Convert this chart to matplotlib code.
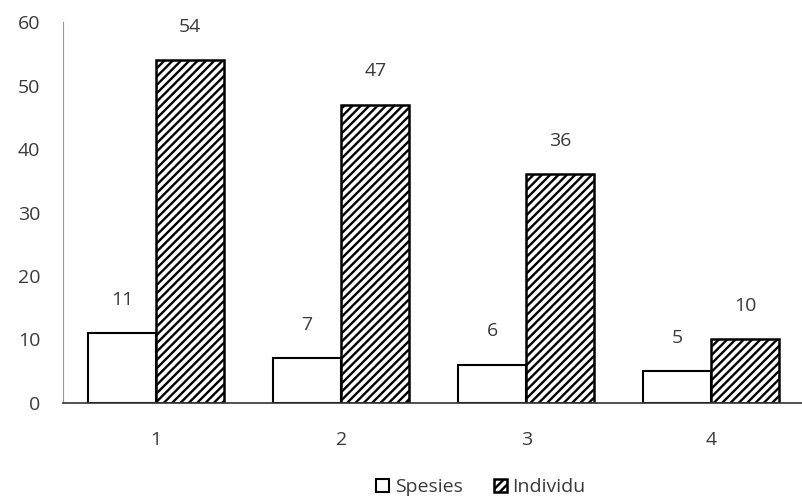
import matplotlib.pyplot as plt
import numpy as np

plt.rcParams['font.family'] = ['Open Sans', 'DejaVu Sans']
plt.rcParams['hatch.linewidth'] = 1.7

# data
categories = ['1', '2', '3', '4']
spesies = [11, 7, 6, 5]
individu = [54, 47, 36, 10]

fig = plt.figure(figsize=(8.03, 5.03), dpi=100)
ax = fig.add_axes([0.078, 0.199, 0.922, 0.757])

x = np.arange(len(categories))
w = 0.368

b1 = ax.bar(x - w / 2, spesies, w, color='white', edgecolor='black',
            linewidth=1.5, label='Spesies')
b2 = ax.bar(x + w / 2, individu, w, color='white', edgecolor='black',
            linewidth=1.8, hatch='////', label='Individu')

txt = '#3a3a3a'
for bars, vals in ((b1, spesies), (b2, individu)):
    for rect, v in zip(bars, vals):
        ax.annotate(str(v), (rect.get_x() + rect.get_width() / 2, v),
                    xytext=(0, 24), textcoords='offset points',
                    ha='center', va='center', fontsize=14, color=txt)

ax.set_xlim(-0.505, 3.495)
ax.set_ylim(0, 60)
ax.set_yticks(range(0, 61, 10))
ax.set_xticks(x)
ax.set_xticklabels(categories)
ax.tick_params(length=0, labelsize=14, colors=txt)
ax.tick_params(axis='x', pad=20)
ax.tick_params(axis='y', pad=16)

for s in ('top', 'right'):
    ax.spines[s].set_visible(False)
ax.spines['left'].set_color('#999999')
ax.spines['bottom'].set_color('#333333')
ax.spines['bottom'].set_linewidth(1.2)

fig.legend(handles=[b1, b2], loc='center', bbox_to_anchor=(481 / 803, 16 / 503),
           ncol=2, frameon=False, fontsize=14, handlelength=0.65,
           handleheight=0.65, handletextpad=0.3, columnspacing=1.6,
           labelcolor=txt, borderpad=0)

plt.savefig('out.png', dpi=100)
